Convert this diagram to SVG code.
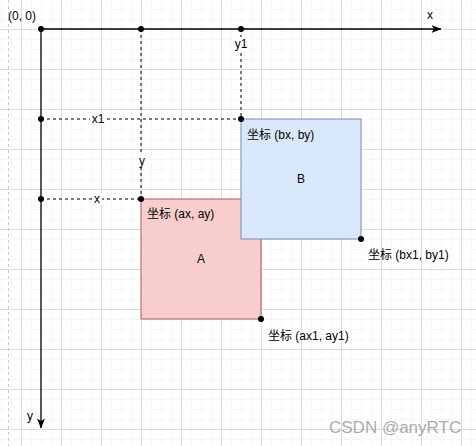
<svg xmlns="http://www.w3.org/2000/svg" width="476" height="446" viewBox="0 0 476 446">
<style>
text{font-family:"Liberation Sans",Arial,"Noto Sans CJK SC",sans-serif;font-size:12px;fill:#000}
.ax{stroke:#000;stroke-width:1.3;fill:none}
.dash{stroke:#000;stroke-width:1;stroke-dasharray:3 3;fill:none}
.dot{fill:#000}
.bg{fill:#fff}
</style>
<defs>
<pattern id="grid" patternUnits="userSpaceOnUse" x="21" y="29" width="40" height="40">
<path d="M10.5 0V40M20.5 0V40M30.5 0V40M0 10.5H40M0 20.5H40M0 30.5H40" stroke="#f6f6f6" stroke-width="1" fill="none"/>
<path d="M0.5 0V40M0 0.5H40" stroke="#dcdcdc" stroke-width="1" fill="none"/>
</pattern>
<marker id="arr" viewBox="0 0 10 8" refX="9.5" refY="4" markerWidth="10" markerHeight="8" markerUnits="userSpaceOnUse" orient="auto">
<path d="M0 0L10 4L0 8L2.5 4Z" fill="#000"/>
</marker>
</defs>
<rect width="476" height="446" fill="#fff"/>
<rect width="476" height="446" fill="url(#grid)"/>
<line x1="8.5" y1="0" x2="8.5" y2="446" stroke="#c8c8c8" stroke-dasharray="3 3"/>

<g id="connectors">
<line class="ax" x1="41" y1="29" x2="441" y2="29" marker-end="url(#arr)"/>
<line class="ax" x1="41" y1="29" x2="41" y2="428" marker-end="url(#arr)"/>
<line class="dash" x1="141" y1="29" x2="141" y2="199"/>
<line class="dash" x1="241" y1="29" x2="241" y2="119"/>
<line class="dash" x1="41" y1="119" x2="241" y2="119"/>
<line class="dash" x1="41" y1="199" x2="141" y2="199"/>
<rect class="bg" x="90" y="113" width="16" height="12"/>
<text x="98" y="123" text-anchor="middle">x1</text>
<rect class="bg" x="92" y="193" width="10" height="12"/>
<text x="97" y="203" text-anchor="middle">x</text>
<rect class="bg" x="137" y="154" width="10" height="13"/>
<text x="142" y="165" text-anchor="middle">y</text>
<rect class="bg" x="233" y="37" width="16" height="13"/>
<text x="241" y="48" text-anchor="middle">y1</text>
</g>

<g id="rectA">
<rect x="141" y="199" width="120" height="120" fill="#f8cecc" stroke="#b85450" stroke-width="1"/>
<text x="147" y="218">坐标 (ax, ay)</text>
<text x="201" y="263" text-anchor="middle">A</text>
</g>
<g id="rectB">
<rect x="241" y="119" width="120" height="120" fill="#dae8fc" stroke="#6c8ebf" stroke-width="1"/>
<text x="247" y="139">坐标 (bx, by)</text>
<text x="301" y="183" text-anchor="middle">B</text>
</g>

<g id="points">
<circle class="dot" cx="41" cy="29" r="3"/>
<circle class="dot" cx="141" cy="29" r="3"/>
<circle class="dot" cx="241" cy="29" r="3"/>
<circle class="dot" cx="41" cy="119" r="3"/>
<circle class="dot" cx="41" cy="199" r="3"/>
<circle class="dot" cx="141" cy="199" r="3"/>
<circle class="dot" cx="241" cy="119" r="3"/>
<circle class="dot" cx="361" cy="239" r="3"/>
<circle class="dot" cx="261" cy="319" r="3"/>
</g>

<g id="labels">
<text x="8" y="20">(0, 0)</text>
<text x="430" y="19" text-anchor="middle">x</text>
<text x="30" y="420" text-anchor="middle">y</text>
<text x="368" y="259">坐标 (bx1, by1)</text>
<text x="268" y="340">坐标 (ax1, ay1)</text>
<text x="329" y="433" style="font-size:17px;fill:#9a9a9a;fill-opacity:0.85">CSDN @anyRTC</text>
</g>
</svg>
